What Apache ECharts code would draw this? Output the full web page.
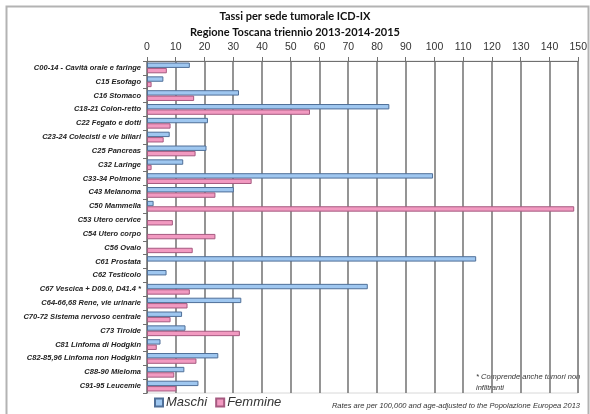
<!DOCTYPE html>
<html><head><meta charset="utf-8">
<script src="https://cdn.jsdelivr.net/npm/echarts@6/dist/echarts.min.js"></script>
<style>html,body{margin:0;padding:0;background:#fff}#c{width:590px;height:414px}</style>
</head><body><div id="c"></div>
<script>
const categories = [
 'C00-14 - Cavità orale e faringe','C15 Esofago','C16 Stomaco','C18-21 Colon-retto','C22 Fegato e dotti',
 'C23-24 Colecisti e vie biliari','C25 Pancreas','C32 Laringe','C33-34 Polmone','C43 Melanoma',
 'C50 Mammella','C53 Utero cervice','C54 Utero corpo','C56 Ovaio','C61 Prostata','C62 Testicolo',
 'C67 Vescica + D09.0, D41.4 *','C64-66,68 Rene, vie urinarie','C70-72 Sistema nervoso centrale','C73 Tiroide',
 'C81 Linfoma di Hodgkin','C82-85,96 Linfoma non Hodgkin','C88-90 Mieloma','C91-95 Leucemie'
];
const maschi = [14.9,5.7,32.0,84.3,21.2,7.9,20.7,12.6,99.5,30.2,2.3,null,null,null,114.5,6.8,76.8,32.8,12.2,13.4,4.7,24.8,13.0,17.9];
const femmine = [6.9,1.6,16.4,56.7,8.2,5.8,16.9,1.6,36.4,23.8,148.6,9.0,23.8,15.9,null,null,14.9,14.1,8.2,32.3,3.4,17.2,9.5,10.2];
const seriesNames = ['Maschi','Femmine'];
const xTicks = {min:0, max:150, interval:10};

const chart = echarts.init(document.getElementById('c'));
chart.setOption({
  animation:false,
  backgroundColor:'#fff',
  title:{
    left:'center', top:3,
    text:'Tassi per sede tumorale ICD-IX\nRegione Toscana triennio 2013-2014-2015',
    textStyle:{fontFamily:'Lato', fontWeight:'bold', fontSize:11, lineHeight:16, color:'#111'}
  },
  grid:{left:147, right:10, top:61, bottom:21, show:true, borderColor:'#d8d8d8', borderWidth:1},
  legend:{
    left:149, bottom:0, itemWidth:8, itemHeight:8, itemGap:8,
    icon:'rect',
    textStyle:{fontFamily:'Liberation Sans', fontStyle:'italic', fontSize:13, color:'#333', padding:[0,0,0,-2]},
    data:seriesNames
  },
  xAxis:{
    type:'value', position:'top', min:xTicks.min, max:xTicks.max, interval:xTicks.interval,
    axisLine:{show:true, lineStyle:{color:'#707070'}},
    axisTick:{show:true, length:4, lineStyle:{color:'#707070'}},
    axisLabel:{fontFamily:'Liberation Sans', fontSize:10.5, color:'#333', margin:8},
    splitLine:{show:true, lineStyle:{color:'#7a7a7a', width:1.6}}
  },
  yAxis:{
    type:'category', inverse:true, data:categories,
    axisLine:{show:true, lineStyle:{color:'#707070'}},
    axisTick:{show:true, length:4, lineStyle:{color:'#707070'}},
    axisLabel:{fontFamily:'Liberation Sans', fontStyle:'italic', fontWeight:'bold', fontSize:7.5, color:'#222', margin:6}
  },
  series:[
    {name:seriesNames[0], type:'bar', data:maschi, barGap:'0%', barCategoryGap:'22%',
     itemStyle:{color:'#9fc7f0', borderColor:'#4f6f98', borderWidth:1}},
    {name:seriesNames[1], type:'bar', data:femmine, barGap:'0%', barCategoryGap:'22%',
     itemStyle:{color:'#f29ac1', borderColor:'#a65a80', borderWidth:1}}
  ],
  graphic:[
    {type:'rect', left:4, top:4, shape:{width:582, height:430}, style:{fill:'none', stroke:'#b3b3b3', lineWidth:2}, silent:true},
    {type:'text', left:476, top:371, style:{text:'* Comprende anche tumori non\ninfiltranti', font:'italic 7.5px "Liberation Sans"', fill:'#333', lineHeight:11}},
    {type:'text', right:10, top:402, style:{text:'Rates are per 100,000 and age-adjusted to the Popolazione Europea 2013', font:'italic 7.5px "Liberation Sans"', fill:'#333'}}
  ]
});
</script></body></html>
